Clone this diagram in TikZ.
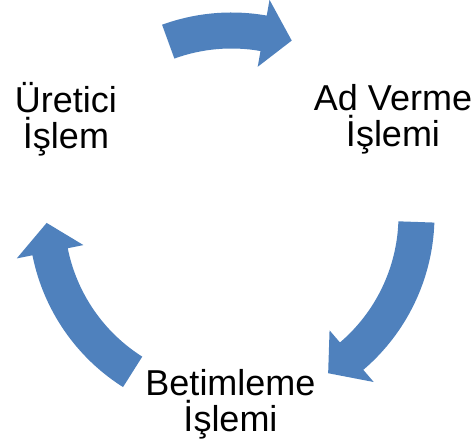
\documentclass[tikz,border=0pt]{standalone}
\usepackage{fontspec}
\setmainfont{Liberation Sans}
\usepackage[dvipsnames]{xcolor}
\definecolor{s_blue}{HTML}{4F81BD}
\usepackage{tikz}

% thick curved block arrow on the cycle: #1 tail angle, #2 tip angle
\newcommand{\cyclearrow}[2]{%
  \fill[arrow body] (#1:203pt) arc[start angle=#1, end angle=#2+9, radius=203pt]
    -- (#2+9:219pt) -- (#2:185pt) -- (#2+9:151pt) -- (#2+9:167pt)
    arc[start angle=#2+9, end angle=#1, radius=167pt] -- cycle;}

\begin{document}
\begin{tikzpicture}[
    x=1pt, y=1pt,
    arrow body/.style={fill=s_blue},
    step label/.style={align=center,inner sep=0pt,
      font=\fontsize{36}{36}\selectfont}]
    \useasboundingbox (-231.5,-225.5) rectangle (243.5,215.5);

    \cyclearrow{110}{71}
    \cyclearrow{-2}{-58.5}
    \cyclearrow{237.7}{182.3}

    \node[step label] (producer) at (-165.5,96) {Üretici\\İşlem};
    \node[step label] (naming) at (161.5,96) {Ad Verme\\İşlemi};
    \node[step label] (describing) at (-1,-188.5) {Betimleme\\İşlemi};
\end{tikzpicture}
\end{document}
